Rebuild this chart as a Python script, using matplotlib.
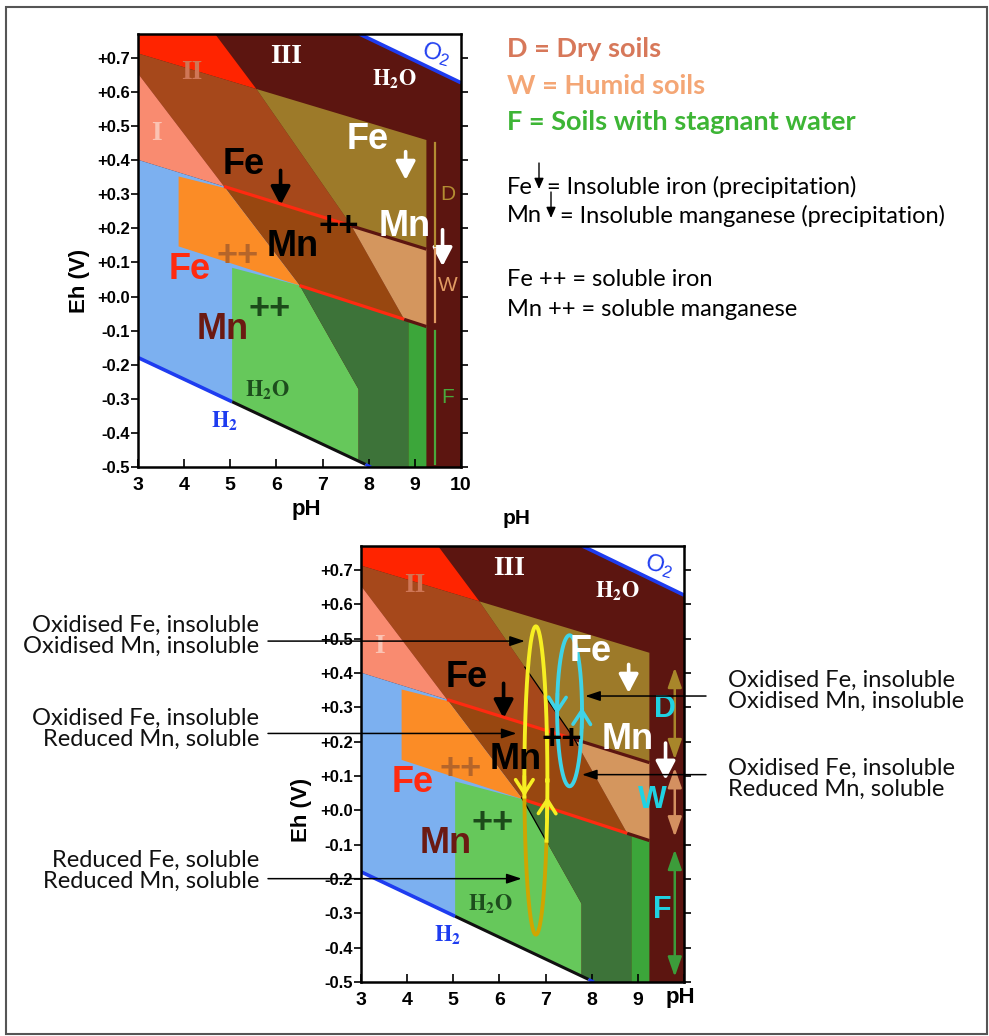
import numpy as np
import matplotlib
matplotlib.use("Agg")
import matplotlib.pyplot as plt
from matplotlib.patches import Polygon, Rectangle, FancyArrowPatch
from matplotlib.transforms import blended_transform_factory

plt.rcParams['font.family'] = ['Liberation Sans', 'DejaVu Sans']
plt.rcParams['mathtext.fontset'] = 'stix'

FIG_W, FIG_H = 989, 1036

# ---------------------------------------------------------------- data
PH_RANGE = (3.0, 10.0)
EH_RANGE = (-0.5, 0.77)
PH_TICKS = [3, 4, 5, 6, 7, 8, 9, 10]
EH_TICKS = [0.7, 0.6, 0.5, 0.4, 0.3, 0.2, 0.1, 0.0, -0.1, -0.2, -0.3, -0.4, -0.5]
EH_TICK_LABELS = ["+0.7", "+0.6", "+0.5", "+0.4", "+0.3", "+0.2", "+0.1", "+0.0",
                  "-0.1", "-0.2", "-0.3", "-0.4", "-0.5"]

# stability boundaries as (pH, Eh) polylines
FE_OXIDE_TOP = ([3.0, 9.25], [0.713, 0.459])
FE_REDOX = ([3.0, 9.25], [0.401, 0.139])
MN_REDOX = ([3.88, 9.25], [0.147, -0.088])
MN_STEEP = ([3.0, 6.52, 7.78], [0.654, 0.029, -0.272])
MN_UPPER = ([4.67, 5.58, 7.61, 8.77], [0.77, 0.606, 0.211, -0.067])
WATER_O2 = ([7.80, 10.0], [0.77, 0.627])
WATER_H2 = ([3.0, 8.05], [-0.179, -0.5])

# vertical field limits (pH)
ORANGE_LEFT = 3.88
GREEN_LEFT = 5.04
GREEN_SPLIT = 8.86
FIELD_RIGHT = 9.25

# soil moisture ranges (Eh) on the right-hand strip
DRY_RANGE = (0.45, 0.147)
HUMID_RANGE = (0.138, -0.076)
FLOOD_RANGE = (-0.101, -0.49)
DRY_ARROW = (0.416, 0.148)
HUMID_ARROW = (0.124, -0.077)
FLOOD_ARROW = (-0.114, -0.485)

# redox cycles: centre pH, centre Eh, half-width (pH), half-height (Eh)
CYCLE_SEASONAL = (6.79, 0.087, 0.25, 0.449)
CYCLE_SHORT = (7.52, 0.29, 0.27, 0.22)

# ---------------------------------------------------------------- colours
MAROON = "#5c1510"
RED = "#ff2400"
BROWN_HI = "#a6481b"
BROWN_LO = "#984710"
OLIVE = "#9d7a29"
TAN = "#d4965e"
SALMON = "#f98b70"
BLUE = "#7cb0f0"
ORANGE = "#fb8c26"
GREEN_LIGHT = "#66c85b"
GREEN_DARK = "#3d7339"
GREEN_BRIGHT = "#3ca63a"
LINE_RED = "#ff2a10"
WATER_BLUE = "#1e3cf0"


def ev(line, x):
    return float(np.interp(x, line[0], line[1]))


def seg(line, x0, x1):
    inner = [x for x in line[0] if min(x0, x1) < x < max(x0, x1)]
    inner = sorted(inner, reverse=(x1 < x0))
    return [(x, ev(line, x)) for x in [x0] + inner + [x1]]


def cross(a, b):
    lo, hi = max(a[0][0], b[0][0]), min(a[0][-1], b[0][-1])
    xs = np.unique(np.r_[a[0], b[0], lo, hi])
    xs = xs[(xs >= lo) & (xs <= hi)]
    d = np.interp(xs, a[0], a[1]) - np.interp(xs, b[0], b[1])
    for i in range(len(xs) - 1):
        if d[i] == 0:
            return xs[i]
        if d[i] * d[i + 1] < 0:
            return xs[i] - d[i] * (xs[i + 1] - xs[i]) / (d[i + 1] - d[i])
    return xs[-1]


def draw_fields(ax):
    x12 = cross(FE_OXIDE_TOP, MN_UPPER)
    x22 = cross(FE_REDOX, MN_UPPER)
    x32 = cross(MN_REDOX, MN_UPPER)
    x21 = cross(FE_REDOX, MN_STEEP)
    x31 = cross(MN_REDOX, MN_STEEP)
    xs_end = MN_STEEP[0][-1]
    ybot, ytop = EH_RANGE
    x0 = PH_RANGE[0]

    def poly(pts, color):
        ax.add_patch(Polygon(pts, closed=True, facecolor=color, edgecolor='none'))

    ax.add_patch(Rectangle((x0, ybot), PH_RANGE[1] - x0, ytop - ybot,
                           facecolor=MAROON, edgecolor='none'))
    # field II
    poly([(x0, ytop)] + seg(MN_UPPER, MN_UPPER[0][0], x12) + [(x0, ev(FE_OXIDE_TOP, x0))], RED)
    # iron oxide over fields I/II
    poly(seg(FE_OXIDE_TOP, x0, x12) + seg(MN_UPPER, x12, x22) + seg(FE_REDOX, x22, x21)
         + seg(MN_STEEP, x21, x0), BROWN_HI)
    # iron oxide over field III
    poly(seg(FE_OXIDE_TOP, x12, FIELD_RIGHT) + seg(FE_REDOX, FIELD_RIGHT, x22)
         + seg(MN_UPPER, x22, x12), OLIVE)
    # soluble Mn with iron oxide
    poly(seg(FE_REDOX, x21, x22) + seg(MN_UPPER, x22, x32) + seg(MN_REDOX, x32, x31)
         + seg(MN_STEEP, x31, x21), BROWN_LO)
    poly(seg(FE_REDOX, x22, FIELD_RIGHT) + seg(MN_REDOX, FIELD_RIGHT, x32)
         + seg(MN_UPPER, x32, x22), TAN)
    # field I
    poly([(x0, ev(MN_STEEP, x0))] + seg(MN_STEEP, x0, x21) + seg(FE_REDOX, x21, x0), SALMON)
    # soluble iron
    poly(seg(FE_REDOX, x0, x21) + seg(MN_STEEP, x21, x31) + [(x31, ybot), (x0, ybot)], BLUE)
    poly([(ORANGE_LEFT, ev(FE_REDOX, ORANGE_LEFT) - 0.012), (x21, ev(FE_REDOX, x21) - 0.004)]
         + seg(MN_STEEP, x21, x31) + seg(MN_REDOX, x31, ORANGE_LEFT), ORANGE)
    # reduced fields
    poly([(GREEN_LEFT, ev(MN_REDOX, GREEN_LEFT) - 0.012)] + seg(MN_STEEP, x31, xs_end)
         + [(xs_end, ybot), (GREEN_LEFT, ybot)], GREEN_LIGHT)
    poly(seg(MN_REDOX, x31, GREEN_SPLIT) + [(GREEN_SPLIT, ybot), (xs_end, ybot)]
         + seg(MN_STEEP, xs_end, x31), GREEN_DARK)
    poly(seg(MN_REDOX, GREEN_SPLIT, FIELD_RIGHT) + [(FIELD_RIGHT, ybot), (GREEN_SPLIT, ybot)],
         GREEN_BRIGHT)
    # outside the water stability field
    poly(seg(WATER_H2, WATER_H2[0][0], WATER_H2[0][-1]) + [(x0, ybot)], "white")
    poly(seg(WATER_O2, WATER_O2[0][0], WATER_O2[0][-1]) + [(PH_RANGE[1], ytop)], "white")

    def line(pts, color, lw=2.3):
        p = np.array(pts)
        ax.plot(p[:, 0], p[:, 1], color=color, lw=lw, solid_capstyle='butt')

    line(seg(FE_REDOX, x21, x22), LINE_RED)
    line(seg(FE_REDOX, x22, FIELD_RIGHT), MAROON)
    line(seg(MN_REDOX, x31, x32), LINE_RED)
    line(seg(MN_REDOX, x32, FIELD_RIGHT), MAROON)
    line(seg(WATER_H2, WATER_H2[0][0], GREEN_LEFT), WATER_BLUE, 2.6)
    line(seg(WATER_H2, GREEN_LEFT, 7.93), "#101010", 2.2)
    line(seg(WATER_H2, 7.93, WATER_H2[0][-1]), WATER_BLUE, 2.2)
    line(seg(WATER_O2, WATER_O2[0][0], WATER_O2[0][-1]), WATER_BLUE, 2.6)


def down_arrow(ax, x, y0, y1, color, lw=2.6, scale=14):
    ax.add_patch(FancyArrowPatch((x, y0), (x, y1), arrowstyle='-|>,head_length=0.8,head_width=0.42',
                                 mutation_scale=scale, color=color, lw=lw, shrinkA=0, shrinkB=0))


def draw_labels(ax):
    serif = ['Liberation Serif']
    ax.text(6.2, 0.705, "III", color="white", fontsize=20, family=serif, weight='bold',
            ha='center', va='center')
    ax.text(4.17, 0.656, "II", color="#cf7656", fontsize=20, family=serif, weight='bold',
            ha='center', va='center')
    ax.text(3.41, 0.477, "I", color="#fbc3b3", fontsize=20, family=serif, weight='bold',
            ha='center', va='center')
    ax.text(8.55, 0.637, r"$\mathbf{H_2O}$", color="white", fontsize=16, ha='center', va='center')
    ax.text(9.46, 0.712, r"$\mathregular{O_2}$", color=WATER_BLUE, fontsize=17, ha='center',
            va='center', rotation=-15)
    ax.text(5.80, -0.275, r"$\mathbf{H_2O}$", color="#1d4d1d", fontsize=16, ha='center', va='center')
    ax.text(4.87, -0.365, r"$\mathbf{H_2}$", color=WATER_BLUE, fontsize=16, ha='center', va='center')

    big = dict(fontsize=26, weight='bold', ha='center', va='center')
    ax.text(5.29, 0.386, "Fe", color="black", **big)
    down_arrow(ax, 6.09, 0.37, 0.268, "black")
    ax.text(7.98, 0.462, "Fe", color="white", **big)
    down_arrow(ax, 8.80, 0.425, 0.342, "white")
    ax.text(8.77, 0.205, "Mn", color="white", **big)
    down_arrow(ax, 9.60, 0.196, 0.089, "white")
    ax.text(6.36, 0.147, "Mn", color="black", **big)
    ax.text(7.36, 0.205, "++", color="black", fontsize=25, weight='bold', ha='center', va='center')
    ax.text(4.13, 0.08, "Fe", color="#ff2a10", **big)
    ax.text(5.15, 0.118, "++", color="#b5652a", **big)
    ax.text(4.84, -0.096, "Mn", color="#6b1a12", **big)
    ax.text(5.85, -0.038, "++", color="#1c4a1a", **big)


def setup_axes(ax):
    ax.set_xlim(*PH_RANGE)
    ax.set_ylim(*EH_RANGE)
    ax.set_xticks(PH_TICKS)
    ax.set_yticks(EH_TICKS)
    ax.set_yticklabels(EH_TICK_LABELS)
    ax.tick_params(axis='x', direction='in', length=6, width=1.2, pad=7, labelsize=14)
    ax.tick_params(axis='y', direction='out', left=True, right=True, length=5, width=1.2,
                   pad=1, labelsize=12)
    for tl in ax.get_xticklabels() + ax.get_yticklabels():
        tl.set_fontweight('bold')
    for s in ax.spines.values():
        s.set_linewidth(1.8)
        s.set_zorder(5)
    ax.set_ylabel("Eh (V)", fontsize=16, weight='bold')


def fig_px(x, y):
    return x / FIG_W, 1 - y / FIG_H


fig = plt.figure(figsize=(FIG_W / 100, FIG_H / 100), dpi=100)

# ---------------------------------------------------------------- upper diagram
ax1 = fig.add_axes([138 / FIG_W, 1 - 467 / FIG_H, 323 / FIG_W, 433 / FIG_H])
draw_fields(ax1)
draw_labels(ax1)
setup_axes(ax1)
ax1.yaxis.set_label_coords(-0.15, 0.43)
ax1.set_xlabel("pH", fontsize=16, weight='bold')
ax1.xaxis.set_label_coords(0.52, -0.075)

strip_x, strip_lbl = 9.44, 9.71
for (y0, y1), col, lbl in [(DRY_RANGE, "#b48c32", "D"), (HUMID_RANGE, "#e09a62", "W"),
                           (FLOOD_RANGE, "#4aa83c", "F")]:
    ax1.plot([strip_x, strip_x], [y0, y1], color=col, lw=1.6)
    ax1.text(strip_lbl, (y0 + y1) / 2, lbl, color=col, fontsize=15, ha='center', va='center')

# ---------------------------------------------------------------- lower diagram
ax2 = fig.add_axes([361 / FIG_W, 1 - 982 / FIG_H, 323 / FIG_W, 436 / FIG_H])
draw_fields(ax2)
draw_labels(ax2)
setup_axes(ax2)
ax2.set_xticklabels([str(t) if t < 10 else "" for t in PH_TICKS])
ax2.yaxis.set_label_coords(-0.152, 0.395)
ax2.text(9.92, -0.545, "pH", fontsize=16, weight='bold', ha='center', va='center')

# boundary traces inside the cycles
trace = np.array(seg(MN_UPPER, 6.55, 7.70))
ax2.plot(trace[:, 0], trace[:, 1], color="black", lw=0.9)
trace = np.array(seg(MN_STEEP, 6.48, 7.05))
ax2.plot(trace[:, 0], trace[:, 1], color="black", lw=0.9)

# redox cycles
YELLOW, GOLD, CYAN = "#f6ee22", "#d0a500", "#3fd3e6"
t = np.linspace(0, 2 * np.pi, 721)
cx, cy, a, b = CYCLE_SEASONAL
ex, ey = cx + a * np.cos(t), cy + b * np.sin(t)
left = ex < cx
bright = (left & (ey > 0.04)) | (~left & (ey > -0.09))
ax2.plot(np.where(bright, np.nan, ex), ey, color=GOLD, lw=2.8)
ax2.plot(np.where(bright, ex, np.nan), ey, color=YELLOW, lw=2.8)
cx2, cy2, a2, b2 = CYCLE_SHORT
ax2.plot(cx2 + a2 * np.cos(t), cy2 + b2 * np.sin(t), color=CYAN, lw=2.8)


def chevron(ax, cx, cy, a, b, y_from, y_to, side, color):
    xs = [cx + side * a * np.sqrt(max(0.0, 1 - ((y - cy) / b) ** 2)) for y in (y_from, y_to)]
    ax.annotate("", xy=(xs[1], y_to), xytext=(xs[0], y_from),
                arrowprops=dict(arrowstyle='->,head_length=0.7,head_width=0.45', color=color,
                                lw=2.6, shrinkA=0, shrinkB=0, mutation_scale=14))


chevron(ax2, cx, cy, a, b, 0.10, 0.04, -1, YELLOW)
chevron(ax2, cx, cy, a, b, -0.02, 0.04, 1, YELLOW)
chevron(ax2, cx2, cy2, a2, b2, 0.34, 0.28, -1, CYAN)
chevron(ax2, cx2, cy2, a2, b2, 0.24, 0.30, 1, CYAN)

# soil moisture double arrows
for (y0, y1), col, lbl, lx, ly in [(DRY_ARROW, "#a8862a", "D", 9.58, 0.294),
                                   (HUMID_ARROW, "#d49060", "W", 9.32, 0.031),
                                   (FLOOD_ARROW, "#3c9c3a", "F", 9.54, -0.289)]:
    ax2.add_patch(FancyArrowPatch((9.8, y0), (9.8, y1),
                                  arrowstyle='<|-|>,head_length=1.0,head_width=0.35',
                                  mutation_scale=12, color=col, lw=1.8, shrinkA=0, shrinkB=0))
    ax2.text(lx, ly, lbl, color="#20d2e2", fontsize=22, weight='bold', ha='center', va='center')

# annotation pointers
lato = ['Lato', 'DejaVu Sans']
tr_left = blended_transform_factory(fig.transFigure, ax2.transData)
for eh, ph, start in [(0.493, 6.55, 268), (0.224, 6.37, 268), (-0.199, 6.48, 268),
                      (0.333, 7.86, 706), (0.104, 7.79, 706)]:
    ax2.annotate("", xy=(ph, eh), xycoords='data', xytext=(start / FIG_W, eh), textcoords=tr_left,
                 arrowprops=dict(arrowstyle='-|>,head_length=0.9,head_width=0.3', color="black",
                                 lw=1.1, shrinkA=0, shrinkB=0, mutation_scale=10),
                 annotation_clip=False)

note_style = dict(va='center', fontsize=17, family=lato, color="#111111", linespacing=1.04)
left_notes = [("Oxidised Fe, insoluble\nOxidised Mn, insoluble", 636),
              ("Oxidised Fe, insoluble\nReduced Mn, soluble", 729),
              ("Reduced Fe, soluble\nReduced Mn, soluble", 871)]
for txt, y in left_notes:
    fig.text(*fig_px(259, y), txt, ha='right', multialignment='right', **note_style)
right_notes = [("Oxidised Fe, insoluble\nOxidised Mn, insoluble", 691),
               ("Oxidised Fe, insoluble\nReduced Mn, soluble", 779)]
for txt, y in right_notes:
    fig.text(*fig_px(728, y), txt, ha='left', multialignment='left', **note_style)

# ---------------------------------------------------------------- key
key_style = dict(fontsize=19.5, weight='bold', family=lato, va='center')
fig.text(*fig_px(507, 49), "D = Dry soils", color="#d7785a", **key_style)
fig.text(*fig_px(507, 86), "W = Humid soils", color="#f4a675", **key_style)
fig.text(*fig_px(507, 122), "F = Soils with stagnant water", color="#3db535", **key_style)

legend_style = dict(fontsize=17, family=lato, va='center')
fig.text(*fig_px(507, 187), "Fe", **legend_style)
fig.text(*fig_px(547, 187), "= Insoluble iron (precipitation)", **legend_style)
fig.text(*fig_px(507, 216), "Mn", **legend_style)
fig.text(*fig_px(560, 216), "= Insoluble manganese (precipitation)", **legend_style)
for x, y0, y1 in [(539, 163, 189), (551, 192, 218)]:
    fig.add_artist(FancyArrowPatch(fig_px(x, y0), fig_px(x, y1), transform=fig.transFigure,
                                   arrowstyle='-|>,head_length=0.8,head_width=0.35',
                                   mutation_scale=8, color="black", lw=1.0, shrinkA=0, shrinkB=0))
fig.text(*fig_px(507, 279), "Fe ++ = soluble iron", **legend_style)
fig.text(*fig_px(507, 309), "Mn ++ = soluble manganese", **legend_style)

fig.text(*fig_px(517, 519), "pH", fontsize=15, weight='bold', ha='center', va='center')

fig.add_artist(Rectangle(fig_px(6, 1034), 981 / FIG_W, 1027 / FIG_H, transform=fig.transFigure,
                         facecolor='none', edgecolor="#555555", lw=1.5))

fig.savefig("out.png", dpi=100)
